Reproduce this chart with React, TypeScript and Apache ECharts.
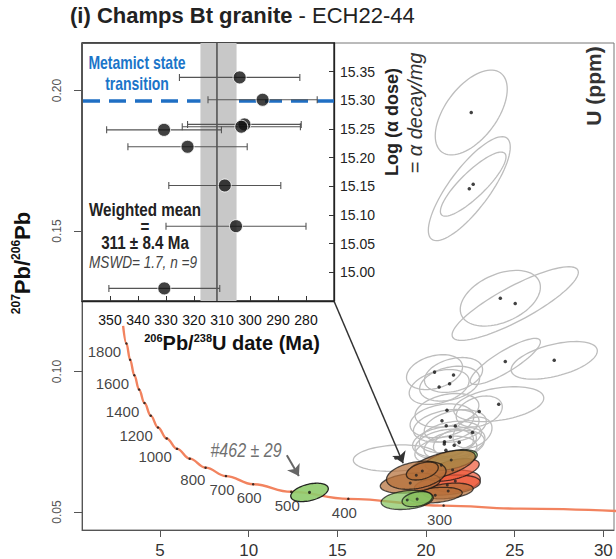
import React, { useEffect, useRef } from "react";
import * as echarts from "echarts";

// ---------- data ----------
// Concordia curve (Tera-Wasserburg), age in Ma, x = 238U/206Pb, y = 207Pb/206Pb
const concAge = [1900, 1800, 1700, 1600, 1500, 1400, 1300, 1200, 1100, 1000, 900, 800, 700, 600, 500, 400, 300, 250, 200];
const concX = [2.918, 3.104, 3.314, 3.55, 3.817, 4.123, 4.476, 4.887, 5.374, 5.959, 6.674, 7.568, 8.718, 10.252, 12.399, 15.62, 20.991, 25.29, 31.73];
const concY = [0.1163, 0.11, 0.1042, 0.0987, 0.0936, 0.0888, 0.0843, 0.0801, 0.0762, 0.0725, 0.069, 0.0658, 0.0628, 0.0599, 0.0572, 0.0547, 0.0523, 0.0512, 0.0501];
const labeledAges = [1800, 1600, 1400, 1200, 1000, 800, 700, 600, 500, 400, 300];

// Grey (discordant) ellipses: [cx, cy, halfX, halfY, rho]
const greyEllipses = [
  [22.55, 0.1922, 2.03, 0.0151, 0.55],
  [22.44, 0.1651, 2.31, 0.0185, 0.8],
  [22.66, 0.1667, 1.85, 0.0114, 0.85],
  [24.19, 0.1261, 2.26, 0.0099, 0.4],
  [25.03, 0.1242, 3.56, 0.0131, 0.85],
  [24.47, 0.1036, 1.98, 0.0082, 0.85],
  [27.23, 0.104, 2.43, 0.0067, 0.5],
  [24.1, 0.0884, 2.54, 0.0062, 0.35],
  [20.48, 0.0998, 1.58, 0.0062, 0.3],
  [21.55, 0.0988, 1.64, 0.0062, 0.3],
  [20.74, 0.0945, 1.69, 0.0062, 0.35],
  [21.33, 0.0957, 1.69, 0.0062, 0.3],
  [21.18, 0.0862, 1.8, 0.006, 0.3],
  [23.0, 0.0858, 1.3, 0.0055, 0.3],
  [20.9, 0.0825, 1.8, 0.006, 0.25],
  [21.14, 0.0807, 1.85, 0.0058, 0.3],
  [21.65, 0.0806, 1.75, 0.0058, 0.3],
  [22.62, 0.0783, 1.1, 0.0055, 0.3],
  [21.37, 0.0767, 1.75, 0.0056, 0.3],
  [21.04, 0.075, 1.8, 0.0055, 0.25],
  [21.03, 0.0742, 1.65, 0.0053, 0.3],
  [21.59, 0.0738, 1.7, 0.0053, 0.3],
  [21.87, 0.0748, 1.45, 0.0053, 0.3],
  [21.12, 0.072, 1.75, 0.005, 0.3],
  [18.3, 0.0692, 2.4, 0.0047, 0.15],
];
// Coloured (concordant) ellipses: [cx, cy, halfX, halfY, rho, colourIndex]
const colourEllipses = [
  [21.65, 0.061, 1.41, 0.0039, 0.2, 2],
  [21.2, 0.0596, 1.86, 0.0036, 0.3, 2],
  [21.5, 0.065, 1.5, 0.004, 0.5, 2],
  [21.42, 0.0685, 1.47, 0.0037, 0.5, 1],
  [20.86, 0.0667, 1.92, 0.0053, 0.6, 0],
  [21.25, 0.0575, 1.41, 0.0028, 0.3, 0],
  [20.52, 0.056, 1.52, 0.0028, 0.3, 0],
  [19.11, 0.0603, 1.69, 0.0036, 0.3, 0],
  [19.45, 0.0631, 1.68, 0.005, 0.3, 0],
  [19.79, 0.0646, 0.9, 0.0032, 0.4, 0],
  [18.94, 0.0543, 1.47, 0.0034, 0.25, 1],
  [19.5, 0.0546, 0.85, 0.0027, 0.3, 1],
];
const colourPalette = ["#b5703a", "#86c561", "#ef5b3c"];
const inheritedEllipse = [[13.43, 0.057, 1.06, 0.00327, 0.4]];

// Inset: 206Pb/238U date (Ma) vs log alpha dose
const insetDate = [303.7, 295.5, 302.0, 303.1, 330.7, 322.3, 309.0, 305.0, 330.6];
const insetDose = [15.34, 15.301, 15.258, 15.254, 15.2485, 15.219, 15.1515, 15.0805, 14.972];
const insetErr = [21.5, 19.5, 20.3, 21.1, 20.5, 21.3, 20.0, 25.0, 19.8];
const meanLine = 311.8;
const meanBand = [304.8, 317.7];
const metamictDose = 15.302;

const xTicks = [5, 10, 15, 20, 25, 30];
const yTicks = [0.05, 0.1, 0.15, 0.2];
const insetXTicks = [350, 340, 330, 320, 310, 300, 290, 280];
const insetYTicks = [15.0, 15.05, 15.1, 15.15, 15.2, 15.25, 15.3, 15.35];

// ---------- helpers ----------
const FONT = "'Liberation Sans', Arial, Helvetica, sans-serif";
const NARROW_SCALE = 0.8;

function ellipsePoints(api: any, cx: number, cy: number, a: number, b: number, r: number) {
  const s = Math.sqrt(1 - r * r);
  const pts: number[][] = [];
  const n = 80;
  for (let k = 0; k < n; k++) {
    const t = (2 * Math.PI * k) / n;
    pts.push(api.coord([cx + a * Math.cos(t), cy + b * (r * Math.cos(t) + s * Math.sin(t))]));
  }
  return pts;
}

function narrowText(x: number, y: number, style: any) {
  return {
    type: "text", x, y, z: 100, scaleX: NARROW_SCALE,
    style: { align: "center", verticalAlign: "middle", fontFamily: FONT, ...style },
  };
}

function buildOption(): any {
  const tickData = concAge
    .map((age, i) => ({ age, i }))
    .filter((d) => d.age >= 300 && d.age <= 1800)
    .map(({ age, i }) => {
      const show = labeledAges.includes(age);
      let label: any = { show: false };
      if (show) {
        if (age >= 1000) label = { show: true, position: "left", distance: 4, offset: [0, 8] };
        else if (age === 800) label = { show: true, position: "left", distance: 0, offset: [1, 12] };
        else label = { show: true, position: "bottom", distance: 5, offset: [-4, 0] };
        label.formatter = String(age);
      }
      return { value: [concX[i], concY[i]], label };
    });

  return {
    animation: false,
    backgroundColor: "#ffffff",
    textStyle: { fontFamily: FONT },
    grid: [
      { left: 82, top: 43, width: 532, height: 488, show: true, borderColor: "#777", borderWidth: 1, backgroundColor: "#fff" },
      { left: 82, top: 43, width: 252, height: 258, show: true, borderColor: "#222", borderWidth: 1.3, backgroundColor: "#fff" },
    ],
    xAxis: [
      {
        gridIndex: 0, type: "value", min: 0.6, max: 30.6,
        axisLine: { show: true, lineStyle: { color: "#555", width: 1 } },
        axisTick: { show: true, customValues: xTicks, length: 7, lineStyle: { color: "#555" } },
        axisLabel: { customValues: xTicks, fontSize: 17, color: "#333", margin: 12, fontFamily: FONT },
        splitLine: { show: false },
      },
      {
        gridIndex: 1, type: "value", min: 270, max: 360, inverse: true,
        axisLine: { show: true, lineStyle: { color: "#222", width: 1.3 } },
        axisTick: { show: true, inside: true, customValues: insetXTicks, length: 5, lineStyle: { color: "#333" } },
        axisLabel: { customValues: insetXTicks, fontSize: 14, color: "#111", margin: 12, fontFamily: FONT },
        splitLine: { show: false },
      },
    ],
    yAxis: [
      {
        gridIndex: 0, type: "value", min: 0.04361, max: 0.21694,
        axisLine: { show: true, lineStyle: { color: "#555", width: 1 } },
        axisTick: { show: true, customValues: yTicks, length: 8, lineStyle: { color: "#555" } },
        axisLabel: {
          customValues: yTicks, rotate: 90, fontSize: 12, color: "#555", margin: 19, fontFamily: FONT,
          formatter: (v: number) => v.toFixed(2),
        },
        splitLine: { show: false },
      },
      {
        gridIndex: 1, type: "value", position: "right", min: 14.95, max: 15.4,
        axisLine: { show: true, lineStyle: { color: "#222", width: 1.3 } },
        axisTick: { show: true, inside: true, customValues: insetYTicks, length: 5, lineStyle: { color: "#333" } },
        axisLabel: {
          customValues: insetYTicks, fontSize: 14, color: "#222", margin: 6, fontFamily: FONT,
          formatter: (v: number) => v.toFixed(2),
        },
        splitLine: { show: false },
      },
    ],
    series: [
      // concordia
      {
        type: "line", xAxisIndex: 0, yAxisIndex: 0, z: 2,
        data: concX.map((x, i) => [x, concY[i]]),
        smooth: 0.4, smoothMonotone: "x", showSymbol: false, symbol: "none",
        lineStyle: { color: "#f2835f", width: 2.4 },
        silent: true,
        markLine: {
          silent: true, symbol: ["none", "arrow"], symbolSize: 11,
          label: { show: false },
          data: [
            [
              { coord: [14.82, 0.12496], lineStyle: { color: "#333", width: 1.5, type: "solid" } },
              { coord: [18.71, 0.06734] },
            ],
            [
              { coord: [12.15, 0.0702], lineStyle: { color: "#666", width: 2, type: "solid" } },
              { coord: [12.83, 0.0628] },
            ],
          ],
        },
      },
      // grey ellipses
      {
        type: "custom", xAxisIndex: 0, yAxisIndex: 0, z: 3, silent: true,
        data: greyEllipses,
        renderItem: (p: any, api: any) => ({
          type: "polygon",
          shape: { points: ellipsePoints(api, api.value(0), api.value(1), api.value(2), api.value(3), api.value(4)) },
          style: { fill: "rgba(0,0,0,0)", stroke: "#bdbdbd", lineWidth: 1.3 },
        }),
      },
      // grey ellipse centres
      {
        type: "scatter", xAxisIndex: 0, yAxisIndex: 0, z: 4, silent: true,
        symbolSize: 3.5, itemStyle: { color: "#111" },
        data: greyEllipses.map((e) => [e[0], e[1]]),
      },
      // coloured ellipses
      {
        type: "custom", xAxisIndex: 0, yAxisIndex: 0, z: 5, silent: true,
        data: colourEllipses,
        renderItem: (p: any, api: any) => ({
          type: "polygon",
          shape: { points: ellipsePoints(api, api.value(0), api.value(1), api.value(2), api.value(3), api.value(4)) },
          style: { fill: colourPalette[api.value(5)], opacity: 0.72, stroke: "#111", lineWidth: 1.3 },
        }),
      },
      {
        type: "scatter", xAxisIndex: 0, yAxisIndex: 0, z: 6, silent: true,
        symbolSize: 3, itemStyle: { color: "#222", opacity: 0.8 },
        data: colourEllipses.map((e) => [e[0], e[1]]),
      },
      // inherited grain ellipse
      {
        type: "custom", xAxisIndex: 0, yAxisIndex: 0, z: 5, silent: true,
        data: inheritedEllipse,
        renderItem: (p: any, api: any) => ({
          type: "polygon",
          shape: { points: ellipsePoints(api, api.value(0), api.value(1), api.value(2), api.value(3), api.value(4)) },
          style: { fill: "#8fcb6c", opacity: 0.9, stroke: "#111", lineWidth: 1.3 },
        }),
      },
      {
        type: "scatter", xAxisIndex: 0, yAxisIndex: 0, z: 6, silent: true,
        symbolSize: 3, itemStyle: { color: "#111" },
        data: inheritedEllipse.map((e) => [e[0], e[1]]),
      },
      // age ticks on concordia
      {
        type: "scatter", xAxisIndex: 0, yAxisIndex: 0, z: 7, silent: true,
        symbolSize: 2.5, itemStyle: { color: "#111" },
        label: { fontSize: 15, color: "#111", fontFamily: FONT },
        data: tickData,
      },
      // inset: band + mean line
      {
        type: "custom", xAxisIndex: 1, yAxisIndex: 1, z: 10, silent: true,
        data: [[meanBand[0], meanBand[1], meanLine]],
        renderItem: (p: any, api: any) => {
          const cs = p.coordSys;
          const a = api.coord([api.value(0), 15.0]);
          const b = api.coord([api.value(1), 15.0]);
          const m = api.coord([api.value(2), 15.0]);
          const x0 = Math.min(a[0], b[0]);
          return {
            type: "group",
            children: [
              { type: "rect", shape: { x: x0, y: cs.y, width: Math.abs(a[0] - b[0]), height: cs.height }, style: { fill: "#c8c8c8" } },
              { type: "line", shape: { x1: m[0], y1: cs.y, x2: m[0], y2: cs.y + cs.height }, style: { stroke: "#444", lineWidth: 1.4 } },
            ],
          };
        },
      },
      // inset: error bars + metamict line
      {
        type: "custom", xAxisIndex: 1, yAxisIndex: 1, z: 11, silent: true,
        data: insetDate.map((d, i) => [d, insetDose[i], insetErr[i]]),
        renderItem: (p: any, api: any) => {
          const x = api.value(0), y = api.value(1), e = api.value(2);
          const l = api.coord([x - e, y]);
          const r = api.coord([x + e, y]);
          const st = { stroke: "#555", lineWidth: 1.1 };
          return {
            type: "group",
            children: [
              { type: "line", shape: { x1: l[0], y1: l[1], x2: r[0], y2: r[1] }, style: st },
              { type: "line", shape: { x1: l[0], y1: l[1] - 3.5, x2: l[0], y2: l[1] + 3.5 }, style: st },
              { type: "line", shape: { x1: r[0], y1: r[1] - 3.5, x2: r[0], y2: r[1] + 3.5 }, style: st },
            ],
          };
        },
        markLine: {
          silent: true, symbol: "none", label: { show: false },
          lineStyle: { color: "#1f6fc4", width: 3.5, type: [17, 9] },
          data: [{ yAxis: metamictDose }],
        },
      },
      // inset points
      {
        type: "scatter", xAxisIndex: 1, yAxisIndex: 1, z: 12, silent: true,
        symbolSize: 13,
        itemStyle: { color: "#111", borderColor: "#fff", borderWidth: 1 },
        data: insetDate.map((d, i) => [d, insetDose[i]]),
      },
    ],
    graphic: [
      {
        type: "text", left: 70, top: 4, z: 100,
        style: {
          text: "{b|(i) Champs Bt granite}{r| - ECH22-44}",
          rich: {
            b: { fontSize: 22, fontWeight: "bold", fill: "#222", fontFamily: FONT },
            r: { fontSize: 22, fill: "#222", fontFamily: FONT },
          },
        },
      },
      {
        type: "text", x: 22, y: 263, rotation: Math.PI / 2, z: 100,
        style: {
          text: "{s|207}{b|Pb/}{s|206}{b|Pb}", align: "center", verticalAlign: "middle",
          rich: {
            s: { fontSize: 12, fontWeight: "bold", fill: "#111", verticalAlign: "top", fontFamily: FONT },
            b: { fontSize: 22, fontWeight: "bold", fill: "#111", lineHeight: 24, fontFamily: FONT },
          },
        },
      },
      {
        type: "text", x: 232, y: 343, z: 100,
        style: {
          text: "{s|206}{b|Pb/}{s|238}{b|U date (Ma)}", align: "center", verticalAlign: "middle",
          rich: {
            s: { fontSize: 11, fontWeight: "bold", fill: "#111", verticalAlign: "top", fontFamily: FONT },
            b: { fontSize: 20, fontWeight: "bold", fill: "#111", lineHeight: 22, fontFamily: FONT },
          },
        },
      },
      {
        type: "text", x: 392, y: 122, rotation: Math.PI / 2, z: 100,
        style: { text: "Log (α dose)", align: "center", verticalAlign: "middle", fontSize: 18, fontWeight: "bold", fill: "#222", fontFamily: FONT },
      },
      {
        type: "text", x: 415, y: 113, rotation: Math.PI / 2, z: 100,
        style: { text: "= α decay/mg", align: "center", verticalAlign: "middle", fontSize: 20, fontStyle: "italic", fill: "#333", fontFamily: FONT },
      },
      {
        type: "text", x: 593, y: 86, rotation: Math.PI / 2, z: 100,
        style: { text: "U (ppm)", align: "center", verticalAlign: "middle", fontSize: 21, fontWeight: "bold", fill: "#333", fontFamily: FONT },
      },
      narrowText(137, 73, {
        text: "Metamict state\ntransition", fontSize: 17.5, fontWeight: "bold", fill: "#1b75c9", lineHeight: 21,
      }),
      narrowText(145, 226, {
        text: "Weighted mean\n=\n311 ± 8.4 Ma", fontSize: 19, fontWeight: "bold", fill: "#222", lineHeight: 16.5,
      }),
      narrowText(143, 262, { text: "MSWD= 1.7, n =9", fontSize: 17, fontStyle: "italic", fill: "#444" }),
      narrowText(246, 450, { text: "#462 ± 29", fontSize: 20, fontStyle: "italic", fill: "#707070" }),
    ],
  };
}

export default function App() {
  const ref = useRef<HTMLDivElement>(null);
  useEffect(() => {
    if (!ref.current) return;
    const chart = echarts.init(ref.current, null, { renderer: "svg" });
    chart.setOption(buildOption());
    return () => chart.dispose();
  }, []);
  return (
    <div
      ref={ref}
      style={{ position: "fixed", left: 0, top: 0, width: 616, height: 559, background: "#fff" }}
    />
  );
}
